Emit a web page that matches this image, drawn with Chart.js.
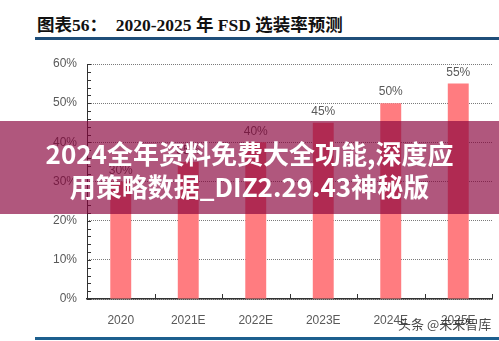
<!DOCTYPE html>
<html>
<head>
<meta charset="utf-8">
<script src="https://cdn.jsdelivr.net/npm/chart.js@4/dist/chart.umd.min.js"></script>
<style>
  html, body { margin: 0; padding: 0; background: #fff; }
  #wrap { position: relative; width: 499px; height: 341px; overflow: hidden; }
  #title { position: absolute; left: 37px; top: 11px; font-size: 17.5px; font-weight: bold; color: #111;
    font-family: "Liberation Serif", "Noto Sans CJK SC", serif; white-space: pre; }
  #topline { position: absolute; left: 35px; right: 0; top: 37px; height: 3px; background: #1f4e79; }
  #botline { position: absolute; left: 35px; right: 0; top: 337px; height: 3px; background: #1d5f8e; }
  #chart { position: absolute; left: 0; top: 0; }
  #band { position: absolute; left: 0; right: 0; top: 121px; height: 93px; background: rgba(135, 0, 57, 0.66);
    color: #fff; font-family: "Noto Sans CJK SC", sans-serif; font-weight: bold; font-size: 26px;
    text-align: center; line-height: 33px; padding-top: 15px; box-sizing: border-box; }
  #mark { position: absolute; left: 398px; top: 314px; font-size: 13px; color: rgba(40,40,40,0.85);
    font-family: "Noto Sans CJK SC", sans-serif; }
</style>
</head>
<body>
<div id="wrap">
  <div id="title">图表56：  2020-2025 年 FSD 选装率预测</div>
  <div id="topline"></div>
  <canvas id="chart" width="499" height="341"></canvas>
  <div id="band">2024全年资料免费大全功能,深度应<br>用策略数据_DIZ2.29.43神秘版</div>
  <div id="mark">头条 @未来智库</div>
  <div id="botline"></div>
</div>
<script>
const categories = ['2020', '2021E', '2022E', '2023E', '2024E', '2025E'];
const fsdRate = [30, 35, 40, 45, 50, 55];
const yTicks = [0, 10, 20, 30, 40, 50, 60];

const axisTicks = {
  id: 'axisTicks',
  afterDraw(chart) {
    const ctx = chart.ctx;
    const x = chart.scales.x, y = chart.scales.y;
    ctx.save();
    ctx.strokeStyle = '#333';
    ctx.lineWidth = 1;
    // y axis line and minor ticks, pointing inward
    ctx.beginPath();
    ctx.moveTo(x.left + 0.5, y.top);
    ctx.lineTo(x.left + 0.5, y.bottom);
    ctx.stroke();
    for (let v = 0; v <= 60; v += 2) {
      const py = Math.round(y.getPixelForValue(v)) + 0.5;
      ctx.beginPath();
      ctx.moveTo(x.left, py);
      ctx.lineTo(x.left + 4, py);
      ctx.stroke();
    }
    // category boundary ticks on x axis, pointing upward
    for (let i = 0; i <= categories.length; i++) {
      let px;
      if (i === 0) px = x.left;
      else if (i === categories.length) px = x.right;
      else px = (x.getPixelForValue(i - 1) + x.getPixelForValue(i)) / 2;
      px = Math.round(px) + 0.5;
      ctx.beginPath();
      ctx.moveTo(px, y.bottom);
      ctx.lineTo(px, y.bottom - 5);
      ctx.stroke();
    }
    // value labels
    ctx.fillStyle = '#595959';
    ctx.font = '12px "Liberation Sans", Arial, sans-serif';
    ctx.textAlign = 'center';
    ctx.textBaseline = 'bottom';
    chart.getDatasetMeta(0).data.forEach((bar, i) => {
      ctx.fillText(fsdRate[i] + '%', bar.x, bar.y - 5);
    });
    ctx.restore();
  }
};

new Chart(document.getElementById('chart'), {
  type: 'bar',
  data: {
    labels: categories,
    datasets: [{
      data: fsdRate,
      backgroundColor: '#ff7c80',
      barPercentage: 0.62,
      categoryPercentage: 0.5
    }]
  },
  options: {
    responsive: false,
    animation: false,
    layout: { padding: { left: 0, right: 7, top: 64, bottom: 0 } },
    plugins: { legend: { display: false }, tooltip: { enabled: false } },
    scales: {
      x: {
        grid: { display: false },
        border: { color: '#333', width: 1.5 },
        ticks: { color: '#595959', font: { family: 'Liberation Sans', size: 12 }, padding: 6 },
        afterFit(scale) { scale.height = 42; }
      },
      y: {
        min: 0, max: 60,
        afterBuildTicks(scale) { scale.ticks = yTicks.map(v => ({ value: v })); },
        grid: { color: '#7a7a7a', drawTicks: false },
        border: { display: false, dash: [1, 1] },
        ticks: {
          color: '#595959', font: { family: 'Liberation Sans', size: 12 }, padding: 10,
          callback: v => v + '%'
        },
        afterFit(scale) { scale.width = 87; }
      }
    }
  },
  plugins: [axisTicks]
});
</script>
</body>
</html>
